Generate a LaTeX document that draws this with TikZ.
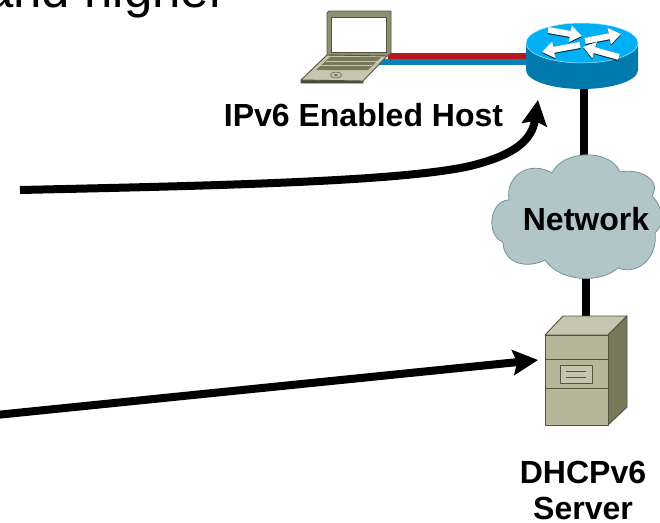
\documentclass[tikz,border=0pt]{standalone}
\usepackage{fontspec}
\setmainfont{Liberation Sans}
\usetikzlibrary{arrows.meta}
\definecolor{routertop}{HTML}{00B0F6}
\definecolor{routerside}{HTML}{0079AD}
\definecolor{linkred}{HTML}{B5191F}
\definecolor{linkblue}{HTML}{0A7FB5}
\definecolor{cloudfill}{HTML}{B2C6C9}
\definecolor{cloudline}{HTML}{6F9599}
\definecolor{serverfront}{HTML}{B6B69B}
\definecolor{servertop}{HTML}{C6C6B0}
\definecolor{serverside}{HTML}{78785B}
\definecolor{serverline}{HTML}{53533F}
\tikzset{
    devicelabel/.style={font=\bfseries\fontsize{32}{36}\selectfont,align=center,inner sep=0pt},
    thickline/.style={line width=8pt},
    bigarrow/.style={line width=8pt,-{Stealth[length=25pt,width=25pt,inset=4pt]}},
    routerarrow/.style={line width=6pt,white,-{Triangle[length=12pt,width=16pt]}},
    routershadow/.style={routerarrow,black!75!routerside,yshift=-1pt},
    metal/.style={draw=serverline,line width=0.9pt,line join=round},
}
\begin{document}
\begin{tikzpicture}[x=1pt,y=-1pt]

    \useasboundingbox (0,0) rectangle (660,522);
    \clip (0,0) rectangle (660,522);

    % anchor points
    \coordinate (hostred) at (388,56);
    \coordinate (hostblue) at (378,62);
    \coordinate (routerred) at (530,56);
    \coordinate (routerblue) at (530,62);
    \coordinate (routerbase) at (584,86);
    \coordinate (cloudtop) at (584,160);
    \coordinate (cloudbase) at (585.5,275);
    \coordinate (servertopside) at (585.5,318);
    \coordinate (curvestart) at (20,190);
    \coordinate (curvetip) at (538,100);
    \coordinate (straightstart) at (-4,415);
    \coordinate (straighttip) at (538,360);

    % text
    \node[anchor=base west,inner sep=0pt,font=\fontsize{51}{51}\selectfont] (headline) at (-15,8) {and higher};
    \node[devicelabel] (hostlabel) at (363.5,115) {IPv6 Enabled Host};
    \node[devicelabel] (serverlabel) at (583,490) {DHCPv6\\Server};

    % paths
    \draw[linkred,line width=6pt] (hostred) -- (routerred); % host -> router
    \draw[linkblue,line width=6pt] (hostblue) -- (routerblue); % host -> router
    \draw[thickline] (routerbase) -- (cloudtop); % router -> cloud
    \draw[thickline] (cloudbase) -- (servertopside); % cloud -> server
    \draw[bigarrow] (curvestart) .. controls (200,186) and (400,182) .. (470,166)
        .. controls (515,155) and (532,140) .. (curvetip); % to router
    \draw[bigarrow] (straightstart) -- (straighttip); % to server

    % laptop
    \fill[serverside!60!black,draw=serverline,line width=0.8pt] (301,83) -- (363,83) -- (363,81) -- (301,80) -- cycle;
    \draw[metal,fill=servertop] (301,80) -- (327,55) -- (388,55) -- (363,81) -- cycle;
    \draw[metal,fill=serverside!70!servertop] (327,13) -- (329,11) -- (391,11) -- (391,53) -- (388,56) -- (327,55) -- cycle;
    \fill[white,draw=serverline,line width=0.6pt] (331,17) rectangle (386,52);
    \fill[serverside] (316,70) -- (368,70) -- (381,57) -- (330,57) -- cycle;
    \draw[servertop,line width=0.8pt] (326,61) -- (377,61) (321,65.5) -- (372,65.5);
    \draw[serverline,line width=0.5pt] (336,75) ellipse (5.5 and 3);
    \draw[serverline,line width=0.5pt] (336,75) ellipse (1.5 and 0.8);

    % router
    \fill[routerside] (526,43) -- (526,70) arc[start angle=180,end angle=360,x radius=56,y radius=-19] -- (638,43) -- cycle;
    \fill[routertop,draw=white!70!routertop,line width=0.5pt] (582,43) ellipse (56 and 20);
    \draw[routershadow] (548,30) -- (582,36); % upper left
    \draw[routerarrow] (548,30) -- (582,36);
    \draw[routershadow] (585,41) -- (621,34); % upper right
    \draw[routerarrow] (585,41) -- (621,34);
    \draw[routershadow] (580,45) -- (542,52); % lower left
    \draw[routerarrow] (580,45) -- (542,52);
    \draw[routershadow] (619,57) -- (583,47); % lower right
    \draw[routerarrow] (619,57) -- (583,47);

    % cloud
    \draw[fill=cloudfill,draw=cloudline,line width=0.8pt] (552,173)
        .. controls (562,150) and (610,148) .. (620,172)
        .. controls (640,168) and (662,180) .. (652,196)
        .. controls (664,208) and (664,225) .. (655,233)
        .. controls (658,255) and (640,276) .. (618,268)
        .. controls (600,284) and (560,282) .. (545,260)
        .. controls (525,270) and (503,262) .. (503,242)
        .. controls (485,235) and (490,200) .. (509,200)
        .. controls (505,175) and (530,160) .. (552,173) -- cycle;
    \node[devicelabel] (cloudlabel) at (586,219) {Network};

    % server
    \draw[metal,fill=servertop] (545,335) -- (563,316) -- (627,316) -- (608,335) -- cycle;
    \draw[metal,fill=serverside] (608,335) -- (627,316) -- (627,407) -- (608,425) -- cycle;
    \draw[metal,fill=serverfront] (545,335) rectangle (608,425);
    \draw[metal] (545,359) -- (608,359);
    \draw[metal] (545,388) -- (608,388);
    \draw[metal,fill=servertop] (560,365) rectangle (592,383);
    \draw[serverline,line width=0.8pt] (566,371) -- (586,371);
    \draw[serverline,line width=0.8pt] (566,377) -- (586,377);

\end{tikzpicture}
\end{document}
